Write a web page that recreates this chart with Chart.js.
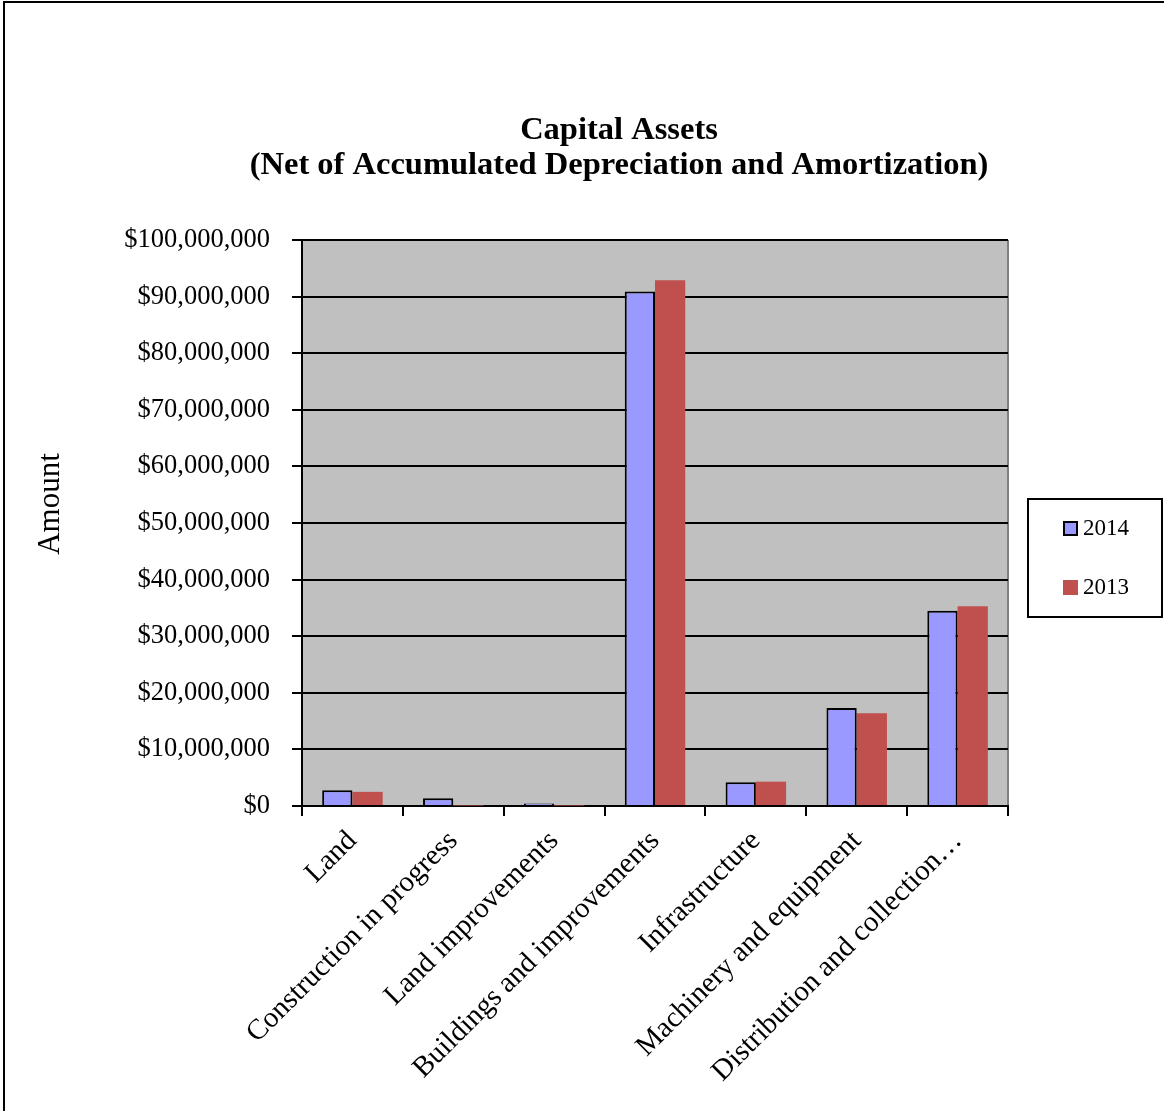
<!DOCTYPE html>
<html>
<head>
<meta charset="utf-8">
<script src="https://cdn.jsdelivr.net/npm/chart.js@4.4.0/dist/chart.umd.min.js"></script>
<style>
  html, body { margin: 0; padding: 0; background: #fff; }
  #wrap { position: relative; width: 1164px; height: 1111px; }
</style>
</head>
<body>
<div id="wrap"><canvas id="grafico" width="1164" height="1111"></canvas></div>
<script>
const CATEGORIAS = ['Land', 'Construction in progress', 'Land improvements', 'Buildings and improvements',
  'Infrastructure', 'Machinery and equipment', 'Distribution and collection…'];
const VALORES_2014 = [2800000, 1350000, 450000, 90900000, 4200000, 17300000, 34500000];
const VALORES_2013 = [2500000, 80000, 80000, 92900000, 4300000, 16400000, 35300000];
const TITULO = ['Capital Assets', '(Net of Accumulated Depreciation and Amortization)'];
const TITULO_EIXO_Y = 'Amount';
const Y_MAX = 100000000;
const Y_PASSO = 10000000;

const FONTE = '"Liberation Serif", "Times New Roman", serif';

/* fundo cinza da area de plotagem, moldura, titulo, rotulo do eixo e legenda */
const decoracao = {
  id: 'decoracao',
  beforeDraw(chart) {
    const { ctx, chartArea: a } = chart;
    ctx.save();
    ctx.fillStyle = '#C0C0C0';
    ctx.fillRect(a.left, a.top, a.right - a.left, a.bottom - a.top);
    ctx.strokeStyle = '#808080';
    ctx.lineWidth = 2;
    ctx.beginPath();
    ctx.moveTo(a.right, a.top);
    ctx.lineTo(a.right, a.bottom);
    ctx.stroke();
    ctx.restore();
  },
  afterDraw(chart) {
    const { ctx } = chart;
    ctx.save();
    // moldura externa
    ctx.strokeStyle = '#000';
    ctx.lineWidth = 2;
    ctx.beginPath();
    ctx.moveTo(4, 1111);
    ctx.lineTo(4, 2);
    ctx.lineTo(1164, 2);
    ctx.stroke();

    // titulo
    ctx.fillStyle = '#000';
    ctx.textAlign = 'center';
    ctx.textBaseline = 'middle';
    ctx.font = 'bold 32.5px ' + FONTE;
    ctx.fillText(TITULO[0], 619, 131);
    ctx.fillText(TITULO[1], 619, 166);

    // rotulo do eixo Y
    ctx.font = '31px ' + FONTE;
    ctx.translate(51, 504);
    ctx.rotate(-Math.PI / 2);
    ctx.fillText(TITULO_EIXO_Y, 0, 0);
    ctx.restore();

    // legenda
    ctx.save();
    ctx.fillStyle = '#fff';
    ctx.fillRect(1028, 499, 134, 118);
    ctx.strokeStyle = '#000';
    ctx.lineWidth = 2;
    ctx.strokeRect(1028, 499, 134, 118);
    const itens = chart.data.datasets;
    const ys = [528, 587];
    ctx.font = '23px ' + FONTE;
    ctx.textAlign = 'left';
    ctx.textBaseline = 'middle';
    itens.forEach((ds, i) => {
      ctx.fillStyle = ds.backgroundColor;
      ctx.fillRect(1063, ys[i] - 7, 15, 15);
      if (ds.borderWidth) {
        ctx.strokeStyle = ds.borderColor;
        ctx.lineWidth = 2;
        ctx.strokeRect(1064, ys[i] - 6, 13, 13);
      }
      ctx.fillStyle = '#000';
      ctx.fillText(ds.label, 1083, ys[i] + 1);
    });
    ctx.restore();
  }
};

new Chart(document.getElementById('grafico'), {
  type: 'bar',
  data: {
    labels: CATEGORIAS,
    datasets: [
      {
        label: '2014',
        data: VALORES_2014,
        backgroundColor: '#9999FF',
        borderColor: '#000000',
        borderWidth: 2,
        borderSkipped: 'bottom',
      },
      {
        label: '2013',
        data: VALORES_2013,
        backgroundColor: '#C0504D',
        borderWidth: 0,
      },
    ],
  },
  options: {
    responsive: false,
    animation: false,
    devicePixelRatio: 1,
    layout: { padding: { left: 12, top: 240, right: 156, bottom: 0 } },
    datasets: { bar: { barPercentage: 1.0, categoryPercentage: 0.6 } },
    plugins: {
      legend: { display: false },
      title: { display: false },
      tooltip: { enabled: false },
    },
    scales: {
      x: {
        afterFit: (s) => { s.height = 305; },
        grid: { drawOnChartArea: false, drawTicks: true, tickLength: 10, color: '#000', lineWidth: 2, offset: true },
        border: { color: '#000', width: 2 },
        ticks: {
          minRotation: 45, maxRotation: 45, autoSkip: false,
          color: '#000', padding: 8,
          font: { family: FONTE, size: 29 },
        },
      },
      y: {
        min: 0,
        max: Y_MAX,
        afterFit: (s) => { s.width = 290; },
        grid: { color: '#000', lineWidth: 2, drawTicks: true, tickLength: 10 },
        border: { color: '#000', width: 2 },
        ticks: {
          stepSize: Y_PASSO,
          color: '#000',
          padding: 22,
          font: { family: FONTE, size: 26.5 },
          callback: (v) => '$' + v.toLocaleString('en-US'),
        },
      },
    },
  },
  plugins: [decoracao],
});
</script>
</body>
</html>
